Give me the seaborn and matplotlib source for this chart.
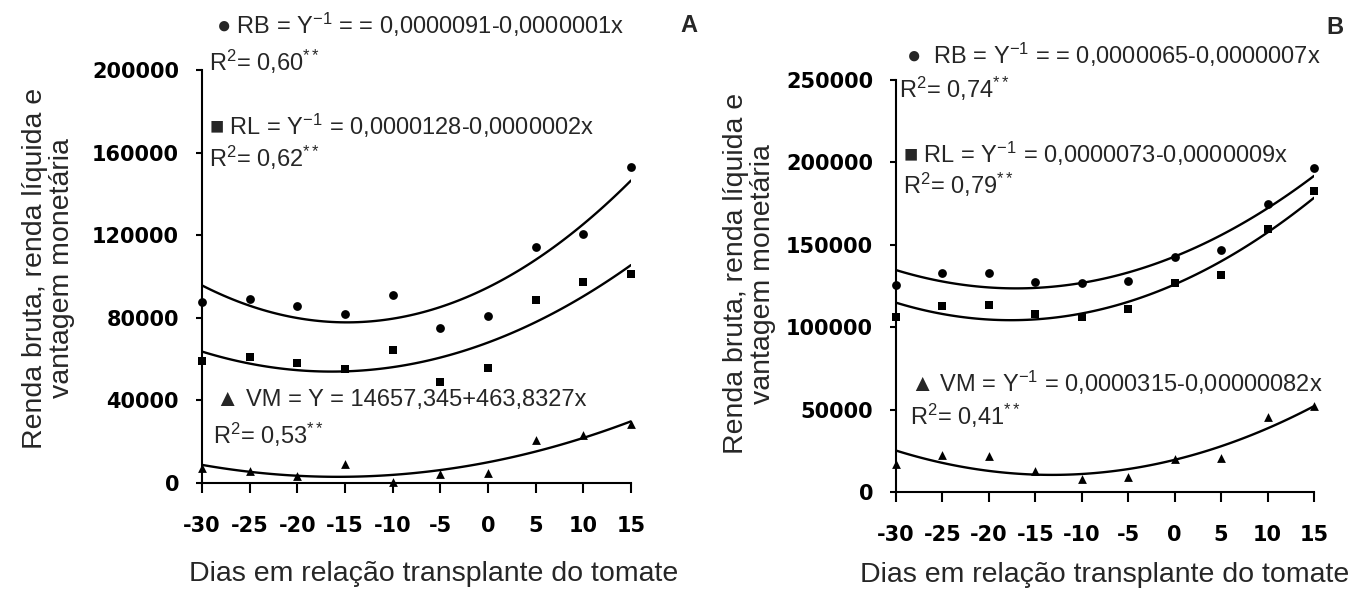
import numpy as np
import pandas as pd
import seaborn as sns
import matplotlib.pyplot as plt

# dias em relacao ao transplante do tomate
dias = [-30, -25, -20, -15, -10, -5, 0, 5, 10, 15]

# painel A
rb_a = [87500, 89300, 85600, 81900, 90900, 75100, 80800, 114100, 120500, 153000]
rl_a = [59100, 61000, 58000, 55400, 64400, 48700, 55600, 88500, 97100, 101100]
vm_a = [7500, 5900, 3400, 9000, 600, 4300, 5000, 20700, 23100, 28400]

# painel B
rb_b = [125600, 132600, 132600, 127600, 126600, 128000, 142600, 146600, 174600, 196400]
rl_b = [106000, 113000, 113600, 108000, 106000, 111000, 126600, 131600, 159600, 182600]
vm_b = [17000, 22600, 22000, 12600, 7600, 9000, 20000, 20400, 45400, 52400]

eq_a = ["\u25cf RB = Y$^{-1}$ = = 0,0000091-0,0000001x", "R$^2$= 0,60$^{**}$",
        "\u25a0 RL = Y$^{-1}$ = 0,0000128-0,0000002x", "R$^2$= 0,62$^{**}$",
        "\u25b2 VM = Y = 14657,345+463,8327x", "R$^2$= 0,53$^{**}$"]
eq_b = ["\u25cf  RB = Y$^{-1}$ = = 0,0000065-0,0000007x", "R$^2$= 0,74$^{**}$",
        "\u25a0 RL = Y$^{-1}$ = 0,0000073-0,0000009x", "R$^2$= 0,79$^{**}$",
        "\u25b2 VM = Y$^{-1}$ = 0,0000315-0,00000082x", "R$^2$= 0,41$^{**}$"]

ylabel = "Renda bruta, renda l\u00edquida e\nvantagem monet\u00e1ria"
xlabel = "Dias em rela\u00e7\u00e3o transplante do tomate"

sns.set_theme(style="white")
plt.rcParams['font.family'] = ['Liberation Sans', 'DejaVu Sans']
plt.rcParams['mathtext.fontset'] = 'custom'
plt.rcParams['mathtext.rm'] = 'Liberation Sans'
plt.rcParams['mathtext.it'] = 'Liberation Sans:italic'
plt.rcParams['mathtext.default'] = 'regular'
plt.rcParams['axes.unicode_minus'] = False

W, H = 1363, 592
fig = plt.figure(figsize=(W / 100, H / 100), dpi=100)
ax_a = fig.add_axes([202 / W, 1 - 483 / H, 429 / W, 413 / H])
ax_b = fig.add_axes([896 / W, 1 - 492 / H, 418 / W, 412 / H])


def painel(ax, series, ymax, ystep, ylab_xy, xlab_xy):
    for vals, mk in zip(series, ('o', 's', '^')):
        df = pd.DataFrame({'dias': dias, 'valor': vals})
        sns.regplot(data=df, x='dias', y='valor', order=2, ci=None, ax=ax,
                    marker=mk, color='black',
                    scatter_kws={'s': 40, 'clip_on': False, 'linewidths': 0, 'alpha': 1},
                    line_kws={'lw': 1.7})
    ax.set_xlim(-30, 15)
    ax.set_ylim(0, ymax)
    ax.set_xticks(dias)
    ax.set_yticks(np.arange(0, ymax + 1, ystep))
    ax.set_ylabel(ylabel, fontsize=20.5, linespacing=1.05)
    ax.set_xlabel(xlabel, fontsize=20.5)
    ax.yaxis.set_label_coords(*ylab_xy)
    ax.xaxis.set_label_coords(*xlab_xy)
    sns.despine(ax=ax)
    for s in ('left', 'bottom'):
        ax.spines[s].set_linewidth(1.5)
        ax.spines[s].set_color('black')
    ax.tick_params(axis='x', bottom=True, direction='out', length=7, width=1.5,
                   pad=17, labelsize=15, labelfontfamily='DejaVu Sans', colors='black')
    ax.tick_params(axis='y', left=True, direction='out', length=4.5, width=1.5,
                   pad=12, labelsize=15, labelfontfamily='DejaVu Sans', colors='black')
    for lbl in ax.get_xticklabels() + ax.get_yticklabels():
        lbl.set_fontweight('bold')


painel(ax_a, (rb_a, rl_a, vm_a), 200000, 40000, (-0.296, 0.52), (0.54, -0.19))
painel(ax_b, (rb_b, rl_b, vm_b), 250000, 50000, (-0.287, 0.53), (0.498, -0.17))


def rotulo(x, y, s, **kw):
    fig.text(x / W, 1 - y / H, s, va='center', ha='left', fontsize=17, **kw)


pos_a = [(216, 25), (209, 62), (209, 126), (209, 158), (216, 400), (213, 435)]
pos_b = [(906, 55), (899, 89), (903, 154), (903, 185), (910, 383), (910, 416)]
for (x, y), s in zip(pos_a, eq_a):
    rotulo(x, y, s)
for (x, y), s in zip(pos_b, eq_b):
    rotulo(x, y, s)
rotulo(680, 25, "A", fontweight='bold')
rotulo(1326, 27, "B", fontweight='bold')

fig.savefig("out.png", dpi=100, facecolor='white')
